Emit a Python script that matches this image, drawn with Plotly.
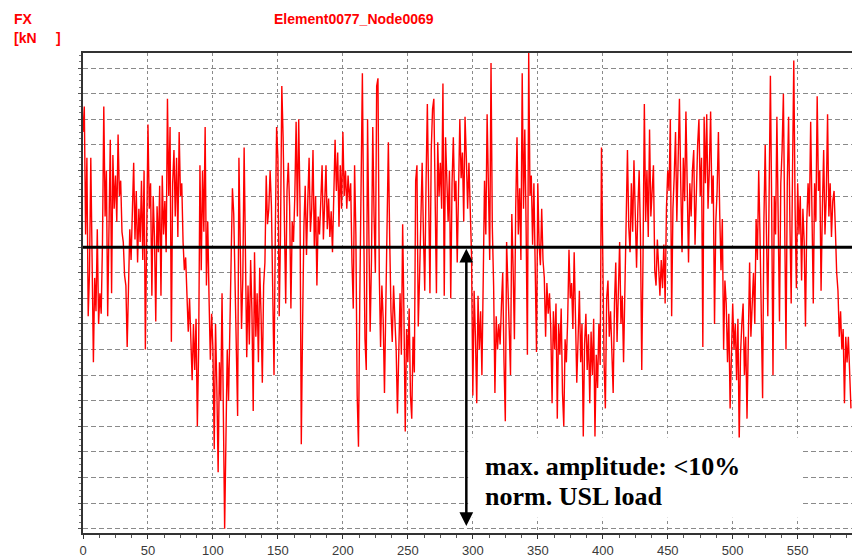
import plotly.graph_objects as go

# ---- data (y in grid-line units, 0 = black reference line) ----
t_step = 1
fx_values = [
    # 0 .. 99
    4.5, 5.5, 0.5, 3.5, -2.7, -1.0, 3.5, -2.0, -4.5, -1.2,
    -2.5, 0.7, -3.0, -1.8, -2.6, 0.2, 5.5, 1.2, 3.0, -2.7,
    2.0, 4.2, -1.8, 3.6, 1.5, 2.8, 1.0, 4.4, 2.0, 2.6,
    0.6, 0.2, -1.1, -1.5, -3.9, -0.7, 0.7, -0.5, 1.7, 3.3,
    0.3, 2.2, -0.6, 1.5, 0.2, 2.6, -0.5, 3.0, -4.0, 1.0,
    4.8, 1.5, 2.5, -1.9, 2.0, 0.4, -2.9, 1.6, -0.2, 2.4,
    -1.9, 2.8, 0.5, 1.8, -0.2, 5.8, 2.0, 4.7, -3.7, 2.5,
    3.8, 1.2, 3.5, 0.4, 4.5, 2.0, 2.5, 0.2, -0.9, -0.4,
    -1.9, -3.3, -2.0, -3.6, -5.2, -3.0, -4.8, -2.8, -7.0, -4.0,
    3.2, -0.9, 3.0, 0.6, 4.7, -1.5, 1.0, -2.0, -4.4, -2.6,
    # 100 .. 199
    -4.0, -7.9, -3.0, -5.5, -8.8, -4.5, -6.0, -1.8, -6.1, -11.0,
    -7.5, -4.0, -6.0, -3.0, -1.0, 2.3, 1.3, -1.0, -3.0, -6.6,
    3.5, -0.5, -3.2, -1.2, 3.9, -0.2, -4.3, -1.5, -3.8, -0.5,
    -2.5, -6.4, -0.2, -3.5, -1.8, -4.5, -0.8, -2.6, -5.3, -1.5,
    -0.6, 2.8, 0.9, 1.5, 3.0, 1.6, -1.9, -5.0, 0.6, 4.7,
    3.5, -2.7, 0.5, 6.3, 4.3, 1.0, -2.2, 2.2, 3.3, 1.6,
    -2.4, 1.0, 0.2, 2.0, 4.9, 1.2, 5.0, 1.7, -7.7, -3.0,
    0.8, 2.4, -0.3, 1.8, 3.5, 0.6, 1.5, 3.8, 0.0, 2.0,
    -1.5, 1.2, 0.5, 1.8, 3.2, 0.3, 1.5, 3.2, 0.7, 1.9,
    0.4, 1.4, -0.2, 2.0, 4.2, 2.2, 3.7, 0.8, 3.2, 1.5,
    # 200 .. 299
    4.5, 2.0, 3.0, 1.5, 2.8, 1.8, 2.5, -0.6, -2.4, 3.2,
    0.5, -5.8, -7.8, -2.0, 2.0, 6.8, 1.0, -3.6, -4.8, 5.0,
    0.5, -3.3, -0.5, 4.7, 1.2, -1.0, 6.3, 6.6, -1.0, -3.9,
    -1.5, -2.8, -5.7, -2.0, -0.3, 4.1, 0.4, -2.5, -3.7, -1.5,
    -2.8, -4.0, -6.5, -3.5, -1.8, -4.2, 0.9, -2.7, -7.2, -3.2,
    -4.5, -2.4, -5.8, -6.7, -3.5, -4.9, 2.6, 3.2, -3.1, -1.2,
    1.0, 3.3, 0.5, -1.7, 2.5, 5.6, 2.0, -1.8, 3.8, 5.4,
    5.8, 1.5, -1.8, 4.1, 2.0, 3.3, 1.5, 6.4, -1.9, 4.3,
    2.3, 1.0, 3.0, -2.0, 2.5, 4.3, 1.8, 2.6, -0.6, 2.0,
    5.0, 2.7, 3.7, 1.0, 5.1, 3.5, 1.5, 3.3, 0.9, -0.3,
    # 300 .. 399
    -5.8, -1.7, -3.5, -6.1, -1.9, -4.0, -2.5, -5.0, -1.3, 2.6,
    0.5, 5.2, 2.4, -0.5, 7.2, 0.8, -1.5, -5.7, -2.7, -4.0,
    -3.0, -3.8, -2.3, -1.0, -4.5, -6.8, 0.2, -2.0, -3.2, -5.0,
    1.3, -0.8, -3.6, 1.5, 4.3, 0.5, 2.3, -0.5, 6.8, 1.5,
    4.6, 0.8, -4.2, 7.6, 2.0, 2.8, 0.1, 2.5, -0.3, -4.1,
    2.5, 0.1, -0.7, 1.5, -0.5, -1.2, -3.5, -1.4, -2.6, -1.8,
    -3.2, -6.1, -2.5, -4.0, -2.2, -6.7, -3.0, -4.2, -2.4, -5.7,
    -7.0, -3.6, -4.5, -2.8, -0.1, -2.0, -1.4, -3.2, -0.2, -2.5,
    -5.3, -3.6, -1.7, -4.5, -3.0, -7.4, -3.8, -2.6, -4.8, -3.4,
    -6.1, -3.3, -5.0, -2.8, -7.4, -4.2, -5.5, -3.0, -4.6, 3.9,
    # 400 .. 499
    -1.0, -4.5, -6.3, -2.0, -1.3, -3.5, -2.5, -4.0, -5.7, -2.2,
    -0.6, -3.7, -1.8, 0.2, -3.0, -1.9, -4.5, -2.1, 0.5, 3.8,
    0.8, -0.2, 2.5, 0.6, 3.4, 1.0, -0.8, 1.5, 3.0, 0.5,
    -4.8, -0.3, 5.6, 1.0, 3.0, 0.4, 4.6, 1.2, 2.0, 3.2,
    -0.9, -1.5, 0.3, -1.2, -1.9, -0.5, -1.6, 0.1, -2.2, 1.5,
    3.0, 2.2, 5.0, -2.7, 1.5, 2.8, 4.5, 1.0, 3.5, 5.8,
    2.5, -0.2, 3.5, 1.8, 5.3, 2.0, -0.6, 2.5, 1.2, 3.0,
    3.8, 0.1, 2.5, 4.0, 5.0, 2.0, 3.5, -3.9, 5.1, 2.5,
    5.2, 1.5, 3.0, 5.3, 1.7, 2.8, -3.0, 1.0, 2.2, 4.5,
    1.3, -0.9, 1.1, -4.0, -1.3, -2.2, -4.5, -2.6, -6.3, -3.8,
    # 500 .. 591
    -2.2, -4.0, -3.0, -5.2, -2.8, -7.6, -4.2, -3.0, -2.2, -5.0,
    -3.5, -6.7, -2.5, -0.6, -3.5, -1.8, -1.0, -3.0, 1.1, -0.5,
    3.0, 0.5, -2.0, -5.9, 1.0, 4.0, 0.5, -2.7, 2.0, 6.7,
    1.5, -5.0, 2.0, 0.5, 5.1, 1.8, -2.9, 2.5, 3.8, 6.0,
    0.8, -4.0, 2.5, 5.1, 1.0, -2.2, 2.8, 7.3, 1.5, -1.6,
    2.5, 0.5, 2.0, -1.3, 1.5, 0.2, -3.1, 1.0, 2.5, 1.2,
    4.9, 0.8, -2.2, 2.5, 1.0, 5.9, 2.2, 3.0, -1.7, 1.5,
    3.8, 0.5, 2.0, 5.2, 1.2, 2.5, 0.4, 1.8, 2.2, 0.7,
    -1.0, -1.7, -3.5, -2.5, -4.0, -3.2, -6.1, -3.5, -4.5, -3.5,
    -5.0, -6.3,
]
time_values = [i * t_step for i in range(len(fx_values))]

x_tick_values = [0, 50, 100, 150, 200, 250, 300, 350, 400, 450, 500, 550]
x_tick_labels = [str(v) for v in x_tick_values]

title_text = "Element0077_Node0069"
y_label_1 = "FX"
y_label_2 = "[kN\u00a0\u00a0\u00a0\u00a0\u00a0]"
note_line_1 = "max. amplitude: <10%"
note_line_2 = "norm. USL load"
arrow_x = 295
arrow_top = 0.0
arrow_bottom = -10.9

X_RANGE = [0, 591.8]
Y_RANGE = [-11.17, 7.59]

fig = go.Figure()
fig.add_trace(go.Scatter(
    x=time_values, y=fx_values, mode="lines",
    line=dict(color="#ff0000", width=1.4),
    showlegend=False, hoverinfo="skip",
))

# white box behind note text
fig.add_shape(type="rect", xref="x", yref="y",
              x0=296.4, x1=553.3, y0=-10.57, y1=-7.44,
              fillcolor="white", line=dict(width=0), layer="above")
# black reference line
fig.add_shape(type="line", xref="paper", yref="y", x0=0, x1=1, y0=0, y1=0,
              line=dict(color="black", width=3), layer="above")

# double arrow
fig.add_annotation(x=arrow_x, y=arrow_bottom, ax=arrow_x, ay=arrow_top,
                   xref="x", yref="y", axref="x", ayref="y",
                   text="", showarrow=True, arrowhead=2, arrowside="end+start",
                   arrowsize=1.1, arrowwidth=2.5, arrowcolor="black")

note_font = dict(family="Liberation Serif", size=26, color="black")
fig.add_annotation(x=(483 - 83) / 769, y=(533 - 466) / 480, xref="paper", yref="paper",
                   text="<b>%s</b>" % note_line_1, showarrow=False,
                   xanchor="left", yanchor="middle", font=note_font)
fig.add_annotation(x=(483 - 83) / 769, y=(533 - 496) / 480, xref="paper", yref="paper",
                   text="<b>%s</b>" % note_line_2, showarrow=False,
                   xanchor="left", yanchor="middle", font=note_font)

red_font = dict(family="Liberation Sans", size=14, color="#ff0000")
fig.add_annotation(x=(353.5 - 83) / 769, y=(533 - 19) / 480, xref="paper", yref="paper",
                   text="<b>%s</b>" % title_text, showarrow=False,
                   xanchor="center", yanchor="middle", font=red_font)
fig.add_annotation(x=(12 - 83) / 769, y=(533 - 19) / 480, xref="paper", yref="paper",
                   text="<b>%s</b>" % y_label_1, showarrow=False,
                   xanchor="left", yanchor="middle", font=red_font)
fig.add_annotation(x=(12 - 83) / 769, y=(533 - 38) / 480, xref="paper", yref="paper",
                   text="<b>%s</b>" % y_label_2, showarrow=False,
                   xanchor="left", yanchor="middle", font=red_font)

fig.update_layout(
    width=852, height=558,
    margin=dict(l=83, r=0, t=53, b=25),
    paper_bgcolor="white", plot_bgcolor="white",
    xaxis=dict(
        range=X_RANGE, tickvals=x_tick_values, ticktext=x_tick_labels,
        showgrid=True, gridcolor="#8a8a8a", gridwidth=1, griddash="3px,3px",
        zeroline=False, showline=True, linecolor="#333333", linewidth=2, mirror=True,
        ticks="outside", ticklen=4, tickcolor="#333333",
        minor=dict(dtick=12.5, ticks="outside", ticklen=3, tickcolor="#555555", showgrid=False),
        tickfont=dict(family="Liberation Sans", size=13, color="#3a3a3a"),
    ),
    yaxis=dict(
        range=Y_RANGE, dtick=1, tick0=0, showticklabels=False,
        showgrid=True, gridcolor="#8a8a8a", gridwidth=1, griddash="5px,3px",
        zeroline=False, showline=True, linecolor="#333333", linewidth=2, mirror=False,
        ticks="outside", ticklen=3, tickcolor="#555555",
        minor=dict(dtick=0.25, ticks="outside", ticklen=2, tickcolor="#777777", showgrid=False),
    ),
)

fig.write_html("out.html")
